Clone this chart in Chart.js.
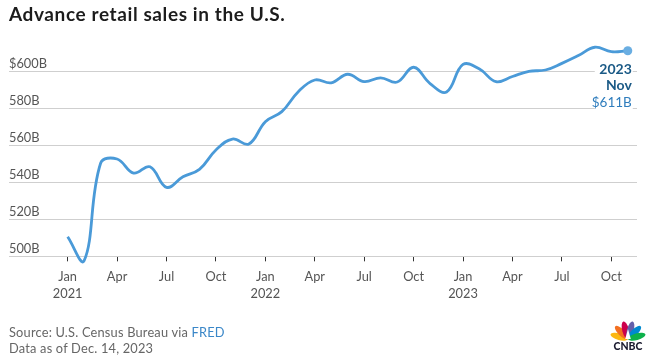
<!DOCTYPE html>
<html>
<head>
<meta charset="utf-8">
<script src="https://cdn.jsdelivr.net/npm/chart.js@4.4.1/dist/chart.umd.min.js"></script>
<style>
  html, body { margin: 0; padding: 0; background: #fff; }
  body { width: 646px; height: 364px; position: relative; overflow: hidden; font-family: Lato, "Open Sans", sans-serif; }
  #title { position: absolute; left: 9px; top: 2px; font-size: 19px; font-weight: 700; letter-spacing: 0.6px; color: #1c1c1c; white-space: nowrap; }
  #wrap { position: absolute; left: 0; top: 0; width: 646px; height: 364px; }
  .foot { position: absolute; left: 9px; font-size: 12.8px; letter-spacing: 0.2px; color: #666; white-space: nowrap; }
  .foot a { color: #3a87c8; text-decoration: none; }
  #logo { position: absolute; left: 610px; top: 318px; }
</style>
</head>
<body>
<div id="wrap"><canvas id="salesCanvas" width="646" height="364"></canvas></div>
<div id="title">Advance retail sales in the U.S.</div>
<div class="foot" style="top:324px">Source: U.S. Census Bureau via <a>FRED</a></div>
<div class="foot" style="top:340px">Data as of Dec. 14, 2023</div>
<svg id="logo" width="36" height="36" viewBox="0 0 36 36">
  <g transform="translate(18,21)">
    <ellipse cx="0" cy="-9" rx="3.4" ry="9" fill="#fcb711" transform="rotate(-75)"/>
    <ellipse cx="0" cy="-9" rx="3.4" ry="9" fill="#f37021" transform="rotate(-45)"/>
    <ellipse cx="0" cy="-9" rx="3.4" ry="9" fill="#cc004c" transform="rotate(-15)"/>
    <ellipse cx="0" cy="-9" rx="3.4" ry="9" fill="#6460aa" transform="rotate(15)"/>
    <ellipse cx="0" cy="-9" rx="3.4" ry="9" fill="#0089d0" transform="rotate(45)"/>
    <ellipse cx="0" cy="-9" rx="3.4" ry="9" fill="#0db14b" transform="rotate(75)"/>
    <path d="M0 -10 L2.8 0 L-2.8 0 Z" fill="#fff"/>
  </g>
  <text x="18" y="32" text-anchor="middle" font-family="Lato, sans-serif" font-weight="900" font-size="10.5" fill="#1a1a2e">CNBC</text>
</svg>
<script>
// monthly values, Jan 2021 .. Nov 2023, billions of dollars
const months = ['Jan','Feb','Mar','Apr','May','Jun','Jul','Aug','Sep','Oct','Nov','Dec'];
const years = ['2021', '2022', '2023'];
const sales = [
  510.6, 497.6, 550.3, 552.6, 545.0, 548.4, 537.3, 543.0, 547.0, 557.5, 563.4, 560.7,
  572.8, 578.2, 589.0, 595.3, 593.8, 598.4, 594.4, 596.5, 594.2, 602.2, 593.4, 588.8,
  603.7, 601.2, 594.4, 597.2, 600.0, 600.7, 604.3, 608.5, 613.0, 610.6, 611.1
];
const yTicks = [500, 520, 540, 560, 580, 600];
const xTicks = [0, 3, 6, 9, 12, 15, 18, 21, 24, 27, 30, 33];

const points = sales.map((v, i) => ({ x: i, y: v }));
const last = points.length - 1;

// end label: year, month and latest value, right-aligned under the last point
const labelPlugin = {
  id: 'endLabel',
  afterDraw(chart) {
    const ctx = chart.ctx;
    const xs = chart.scales.x, ys = chart.scales.y;
    const px = xs.getPixelForValue(last) + 4;
    const py = ys.getPixelForValue(sales[last]);
    ctx.save();
    ctx.fillStyle = '#fff';
    ctx.fillRect(px - 37, py + 10, 38, 50);
    ctx.textAlign = 'right';
    ctx.textBaseline = 'middle';
    ctx.font = '700 14px Lato, sans-serif';
    ctx.fillStyle = '#1b5a86';
    ctx.fillText('2023', px, py + 18.5);
    ctx.fillText('Nov', px, py + 35);
    ctx.font = '400 13.5px Lato, sans-serif';
    ctx.fillStyle = '#2f7dbd';
    ctx.fillText('$' + Math.round(sales[last]) + 'B', px, py + 52);
    ctx.restore();
  }
};

const ctx = document.getElementById('salesCanvas').getContext('2d');
const salesChart = new Chart(ctx, {
  type: 'line',
  data: {
    datasets: [{
      data: points,
      borderColor: '#4a9ad8',
      borderWidth: 2.8,
      tension: 0.4,
      clip: false,
      pointRadius: points.map((p, i) => i === last ? 4.5 : 0),
      pointBackgroundColor: '#6aaee2',
      pointBorderWidth: 0
    }]
  },
  options: {
    responsive: false,
    animation: false,
    layout: { padding: { left: 9, right: 9, top: 34.3, bottom: 54.6 } },
    plugins: { legend: { display: false }, tooltip: { enabled: false } },
    scales: {
      x: {
        type: 'linear',
        min: -3.56,
        max: 34.56,
        afterBuildTicks: axis => { axis.ticks = xTicks.map(v => ({ value: v })); },
        grid: { drawOnChartArea: false, drawTicks: true, tickLength: 5, color: '#333', lineWidth: 1 },
        border: { display: false },
        ticks: {
          autoSkip: false,
          maxRotation: 0,
          padding: 6.75,
          color: '#555',
          font: { family: 'Lato', size: 12.8, lineHeight: 1.35 },
          callback: v => {
            const m = months[v % 12];
            return v % 12 === 0 ? [m, years[v / 12]] : m;
          }
        }
      },
      y: {
        min: 500,
        max: 620,
        afterBuildTicks: axis => { axis.ticks = yTicks.map(v => ({ value: v })); },
        grid: { drawTicks: false, color: '#cfcfcf', lineWidth: 1 },
        border: { display: false },
        ticks: {
          mirror: true,
          padding: 0,
          labelOffset: -7.5,
          color: '#555',
          font: { family: 'Lato', size: 12.8 },
          callback: v => v === 600 ? '$600B' : v + 'B'
        }
      }
    }
  },
  plugins: [labelPlugin]
});
</script>
</body>
</html>
